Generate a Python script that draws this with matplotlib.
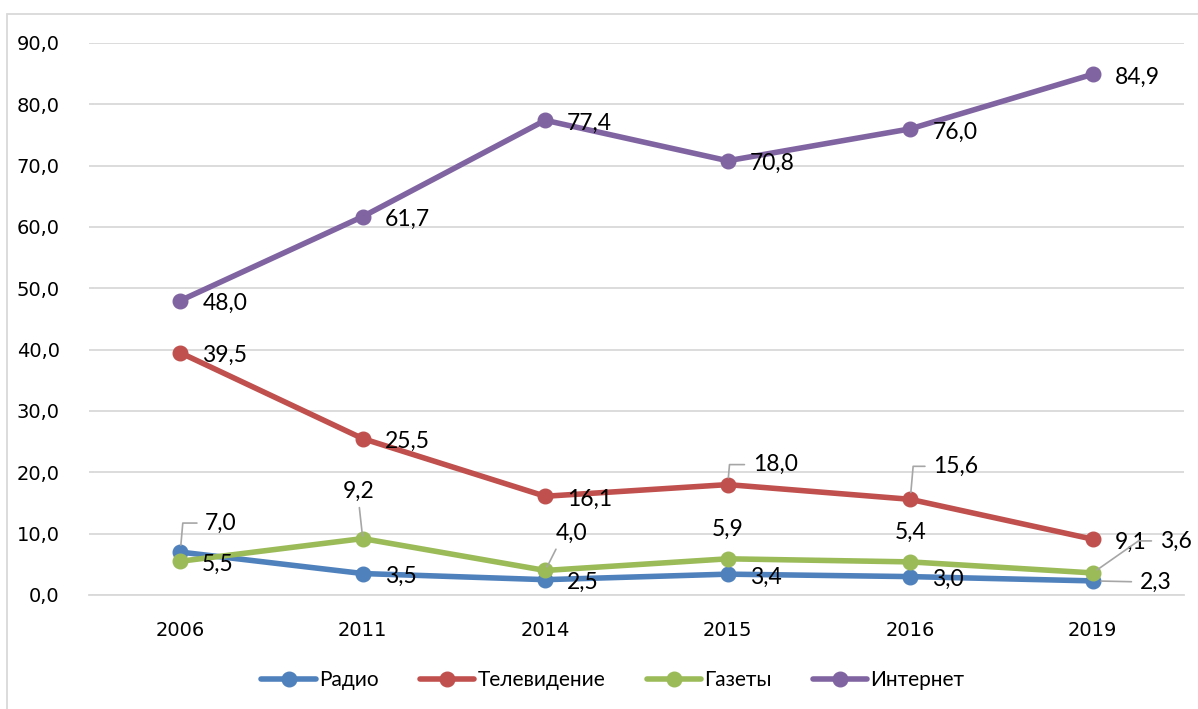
import matplotlib
matplotlib.use("Agg")
import matplotlib.pyplot as plt
from matplotlib.patches import Rectangle

# ─── données ────────────────────────────────────────────────────────────────
years = ["2006", "2011", "2014", "2015", "2016", "2019"]
radio = [7.0, 3.5, 2.5, 3.4, 3.0, 2.3]
tv = [39.5, 25.5, 16.1, 18.0, 15.6, 9.1]
gazety = [5.5, 9.2, 4.0, 5.9, 5.4, 3.6]
internet = [48.0, 61.7, 77.4, 70.8, 76.0, 84.9]
series_names = ["Радио", "Телевидение", "Газеты", "Интернет"]
y_ticks = [0, 10, 20, 30, 40, 50, 60, 70, 80, 90]

COLORS = ["#4F81BD", "#C0504D", "#9BBB59", "#8064A2"]
GRID = "#D9D9D9"
LEADER = "#A6A6A6"
LABEL_FONT = ["Lato", "DejaVu Sans"]

# positions des étiquettes (décalage en pixels, style)
R = (22, -3, "left", "center", None)
LAYOUT = {
    "Радио": [(25, 29, "left", "center", "angle"), R, R, R, R,
              (47, -1, "left", "center", "line")],
    "Телевидение": [R, R, R, (25, 20, "left", "center", "angle"),
                    (23, 33, "left", "center", "angle"), R],
    "Газеты": [R, (-4, 47, "center", "center", "up"),
               (26, 37, "center", "center", "diag"),
               (0, 29, "center", "center", None),
               (0, 30, "center", "center", None),
               (67, 32, "left", "center", "elbow")],
    "Интернет": [R, R, R, R, R, R],
}


def fmt(v):
    return f"{v:.1f}".replace(".", ",")


def label(ax, x, y, v, spec):
    dx, dy, ha, va, leader = spec
    ap = None
    if leader == "angle":
        ap = dict(arrowstyle="-", color=LEADER, lw=1.2, relpos=(0, 0.5),
                  shrinkA=4, shrinkB=5,
                  connectionstyle="angle,angleA=0,angleB=85,rad=0")
    elif leader == "line":
        ap = dict(arrowstyle="-", color=LEADER, lw=1.2, relpos=(0, 0.5),
                  shrinkA=4, shrinkB=6)
    elif leader == "up":
        ap = dict(arrowstyle="-", color=LEADER, lw=1.2, relpos=(0.5, 0),
                  shrinkA=2, shrinkB=2)
    elif leader == "diag":
        ap = dict(arrowstyle="-", color=LEADER, lw=1.2, relpos=(0.1, 0),
                  shrinkA=2, shrinkB=3)
    elif leader == "elbow":
        ap = dict(arrowstyle="-", color=LEADER, lw=1.2, relpos=(0, 0.5),
                  shrinkA=4, shrinkB=4,
                  connectionstyle="angle,angleA=0,angleB=35,rad=0")
    ax.annotate(fmt(v), (x, y), xytext=(dx, dy), textcoords="offset pixels",
                ha=ha, va=va, fontsize=16.5, family=LABEL_FONT, color="black",
                arrowprops=ap, zorder=5)


# ─── figure ─────────────────────────────────────────────────────────────────
fig = plt.figure(figsize=(11.98, 7.09), dpi=100)
ax = fig.add_axes([89 / 1198, 1 - 595 / 709, (1184 - 89) / 1198, (595 - 43) / 709])

fig.patches.append(Rectangle((7 / 1198, -0.1), 1.2, 1.1 - 14 / 709,
                             transform=fig.transFigure, fill=False,
                             edgecolor=GRID, lw=1.3))

x = list(range(len(years)))
data = [radio, tv, gazety, internet]
for name, vals, col in zip(series_names, data, COLORS):
    ax.plot(x, vals, color=col, lw=4, marker="o", markersize=10.5,
            solid_capstyle="round", label=name, zorder=3)

for name, vals in zip(series_names, data):
    for xi, v, spec in zip(x, vals, LAYOUT[name]):
        label(ax, xi, v, v, spec)

ax.set_xlim(-0.5, len(years) - 0.5)
ax.set_ylim(0, 90)
ax.set_yticks(y_ticks)
ax.set_yticklabels([fmt(t) for t in y_ticks])
ax.set_xticks(x)
ax.set_xticklabels(years)
ax.tick_params(length=0, labelsize=14, colors="black")
ax.tick_params(axis="y", pad=21)
ax.tick_params(axis="x", pad=19)
ax.grid(axis="y", color=GRID, lw=1.3)
ax.set_axisbelow(True)
for s in ["top", "right", "left"]:
    ax.spines[s].set_visible(False)
ax.spines["bottom"].set_color(GRID)
ax.spines["bottom"].set_linewidth(1.3)

fig.legend(loc="center", bbox_to_anchor=(613 / 1198, 1 - 680 / 709), ncol=4,
           frameon=False, handlelength=2.6, handletextpad=0.15,
           columnspacing=2.0, prop={"family": LABEL_FONT, "size": 15})

fig.savefig("out.png", dpi=100)
